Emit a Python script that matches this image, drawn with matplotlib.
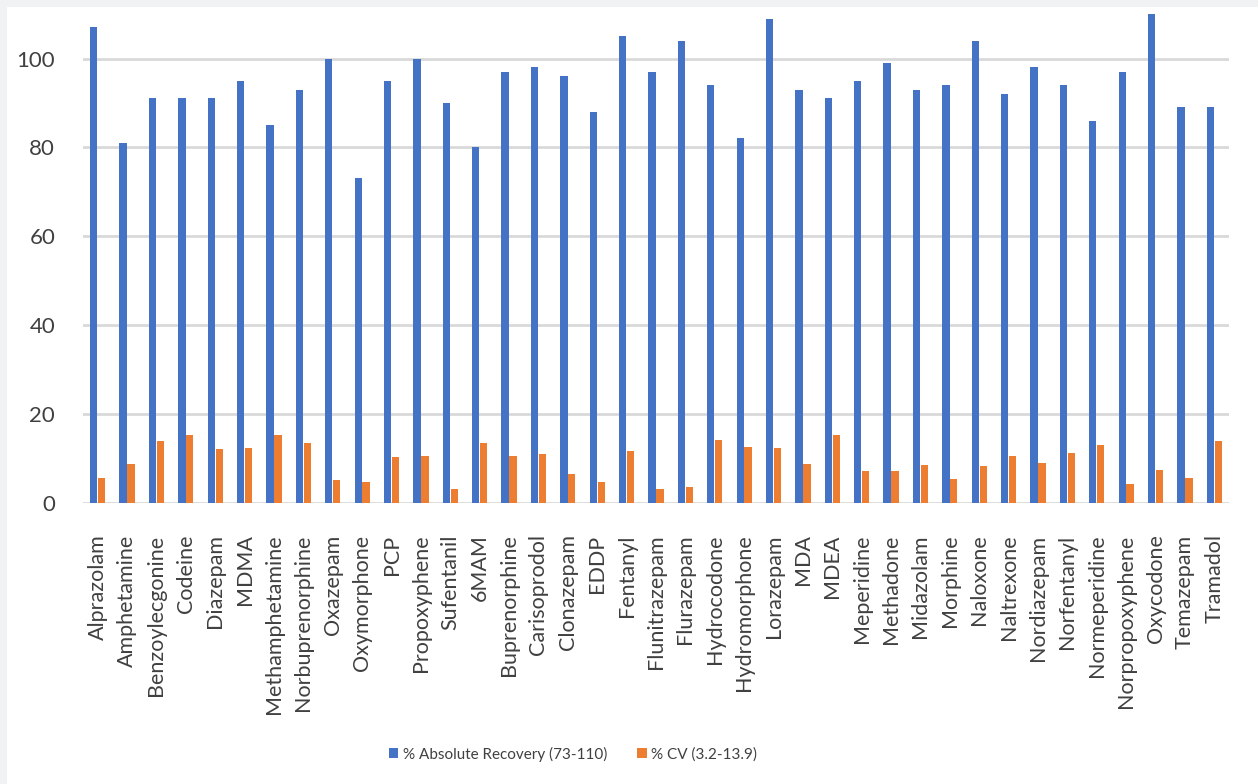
import numpy as np
import matplotlib
matplotlib.use("Agg")
import matplotlib.pyplot as plt
from matplotlib.patches import Rectangle

DRUGS = ["Alprazolam", "Amphetamine", "Benzoylecgonine", "Codeine", "Diazepam",
         "MDMA", "Methamphetamine", "Norbuprenorphine", "Oxazepam", "Oxymorphone",
         "PCP", "Propoxyphene", "Sufentanil", "6MAM", "Buprenorphine",
         "Carisoprodol", "Clonazepam", "EDDP", "Fentanyl", "Flunitrazepam",
         "Flurazepam", "Hydrocodone", "Hydromorphone", "Lorazepam", "MDA",
         "MDEA", "Meperidine", "Methadone", "Midazolam", "Morphine",
         "Naloxone", "Naltrexone", "Nordiazepam", "Norfentanyl", "Normeperidine",
         "Norpropoxyphene", "Oxycodone", "Temazepam", "Tramadol"]
RECOVERY = [107, 81, 91, 91, 91, 95, 85, 93, 100, 73,
            95, 100, 90, 80, 97, 98, 96, 88, 105, 97,
            104, 94, 82, 109, 93, 91, 95, 99, 93, 94,
            104, 92, 98, 94, 86, 97, 110, 89, 89]
CV = [5.5, 8.6, 13.8, 15.2, 12.0, 12.3, 15.1, 13.4, 5.1, 4.7,
      10.2, 10.5, 3.0, 13.5, 10.5, 10.9, 6.4, 4.7, 11.5, 3.1,
      3.6, 14.1, 12.6, 12.3, 8.6, 15.3, 7.1, 7.0, 8.5, 5.3,
      8.3, 10.5, 8.8, 11.1, 13.0, 4.2, 7.4, 5.6, 13.8]
LEG = ["% Absolute Recovery (73-110)", "% CV (3.2-13.9)"]

BLUE = "#4472C4"
ORANGE = "#ED7D31"
TXT = "#404040"
plt.rcParams["font.family"] = ["Lato", "DejaVu Sans"]

W, H = 1258, 784
fig = plt.figure(figsize=(W / 100, H / 100), dpi=100, facecolor="#f1f2f4")
fig.patches.append(Rectangle((7 / W, 0), 1 - 7 / W, 1 - 7 / H, transform=fig.transFigure,
                             facecolor="white", edgecolor="none", zorder=-5))

ax = fig.add_axes([83 / W, 1 - 502.5 / H, (1229 - 83) / W, (502.5 - 7) / H])
ax.set_zorder(2)
ax.set_facecolor("none")
x = np.arange(len(DRUGS))
ax.bar(x - 0.135, RECOVERY, width=0.25, color=BLUE, label=LEG[0], zorder=3)
ax.bar(x + 0.135, CV, width=0.25, color=ORANGE, label=LEG[1], zorder=3)

ax.set_xlim(-0.5, len(DRUGS) - 0.5)
ax.set_ylim(0, 111.6)
ax.set_yticks(range(0, 101, 20))
ax.yaxis.grid(True, color="#d9d9d9", linewidth=2, zorder=0)
ax.set_axisbelow(True)
for s in ax.spines.values():
    s.set_visible(False)
ax.tick_params(axis="both", length=0, colors=TXT)
ax.tick_params(axis="y", labelsize=16, pad=20)
ax.set_xticks(x)
ax.set_xticklabels(DRUGS, rotation=90, fontsize=15.5, va="top")
ax.tick_params(axis="x", pad=23)

# legend sits left of centre in the original
leg = fig.legend(loc="center", bbox_to_anchor=(573 / W, 1 - 754 / H), ncol=2, frameon=False,
                 fontsize=11, handlelength=0.6, handleheight=0.6, handletextpad=0.3,
                 columnspacing=2.0, labelcolor=TXT)
leg.set_zorder(3)

plt.savefig("out.png", dpi=100, facecolor=fig.get_facecolor())
plt.close()
